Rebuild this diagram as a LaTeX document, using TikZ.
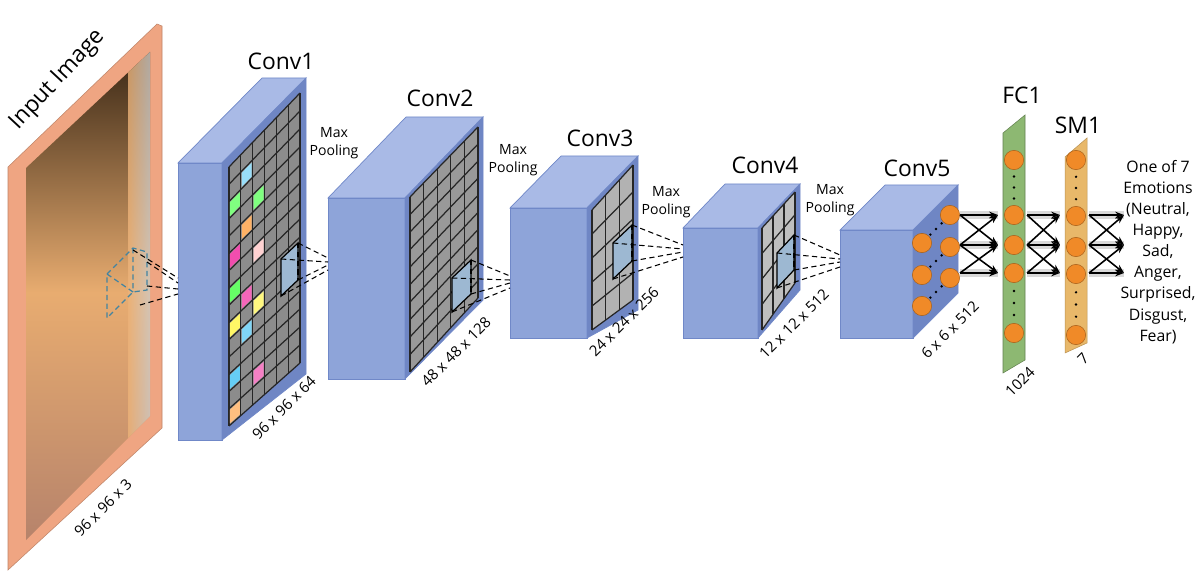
\documentclass[tikz,border=0pt]{standalone}
\usepackage{fontspec}
\setmainfont{Open Sans}
\usetikzlibrary{calc,arrows.meta}
\definecolor{bfront}{HTML}{8EA4D9}
\definecolor{btop}{HTML}{A9BAE6}
\definecolor{bside}{HTML}{6F86C4}
\definecolor{bedge}{HTML}{7088C8}
\definecolor{slab}{HTML}{EFA582}
\definecolor{fcg}{HTML}{8DB872}
\definecolor{smy}{HTML}{E8B86A}
\definecolor{neu}{HTML}{F08A28}
\definecolor{patch}{HTML}{9DB8D2}
\tikzset{
  lbl/.style={font=\fontsize{13}{15}\selectfont},
  mp/.style={font=\fontsize{8}{10}\selectfont,align=center},
  dim/.style={font=\fontsize{8.5}{10}\selectfont,rotate=45},
  proj/.style={densely dashed,line width=0.6pt},
  neuron/.style={circle,fill=neu,draw=neu!70!black,line width=0.3pt,inner sep=0pt,minimum size=11pt},
  arr/.style={-{Stealth[length=5pt]},line width=0.9pt},
  glow/.style={line width=5pt,black!15},
  cell/.style={draw=black!85,line width=0.7pt},
}
\newcommand\cnnbox[7]{%
  \fill[bfront,draw=bedge] (#1,#2) rectangle ({#1+#3},{#2+#4});
  \fill[btop,draw=bedge] (#1,#2)--({#1+#3},#2)--(#5,#6)--({#5-#3},#6)--cycle;
  \fill[bside,draw=bedge] ({#1+#3},#2)--(#5,#6)--(#5,#7)--({#1+#3},{#2+#4})--cycle;}
\newcommand\facegrid[7]{%
  \fill[#7] #1--#2--#3--#4--cycle;
  \foreach \k in {0,...,#5}{\draw[cell] ($#1!{\k/#5}!#2$)--($#4!{\k/#5}!#3$);}
  \foreach \k in {0,...,#6}{\draw[cell] ($#1!{\k/#6}!#4$)--($#2!{\k/#6}!#3$);}}
% patch: name, x1 y1 (front-left top), x2 y2 (right top), height, target coordinate
\newcommand\projpatch[7]{%
  \coordinate (#1a) at (#2,#3); \coordinate (#1b) at (#4,#5);
  \coordinate (#1c) at (#4,{#5+#6}); \coordinate (#1d) at (#2,{#3+#6});
  \fill[patch,draw=black,line width=0.7pt] (#1a)--(#1b)--(#1c)--(#1d)--cycle;
  \draw[densely dashed,line width=0.9pt] (#1b)--(#1c);
  \draw[proj] (#1b)--($(#7)+(0,-7)$) (#1c)--($(#7)+(0,0)$) (#1d)--($(#7)+(0,5)$) (#1a)--($(#7)+(0,-3)$);}
\begin{document}
\begin{tikzpicture}[x=0.02cm,y=-0.02cm]
\useasboundingbox (0,0) rectangle (1200,577);
\fill[white] (0,0) rectangle (1200,577);
% input slab
\fill[slab,draw=slab!80!black,line width=0.3pt] (8,167)--(157,24)--(162,26)--(162,428)--(8,570)--cycle;
\begin{scope}
\clip (26,168)--(150,52)--(150,416)--(26,540)--cycle;
\shade[top color=black!75!brown,bottom color=brown!45!pink!80!black,middle color=brown!55!orange!65!white] (20,40) rectangle (155,545);
\shade[left color=brown!50!orange!60!white,right color=black!20,opacity=0.8] (128,40) rectangle (152,545);
\end{scope}
\node[lbl,rotate=47] (tin) at (58,80) {Input Image};
\node[dim] (d0) at (103,508) {96 x 96 x 3};
% input patch
\draw[cyan!60!black,densely dashed,line width=0.7pt] (107,274)--(133,248)--(147,252)--(147,290)--(133,292)--(107,318)--cycle (107,274)--(133,292) (133,248)--(133,292);
\coordinate (p0a) at (133,250); \coordinate (p0b) at (147,286); \coordinate (p0c) at (140,305); \coordinate (p0d) at (147,262);
% Conv1
\cnnbox{178}{163}{44}{277}{306}{78}{374}
\facegrid{(229,167)}{(300,93)}{(300,363)}{(229,426)}{6}{15}{black!45}
\foreach \u/\v/\c in {0/5/magenta!70,0/7/green!60,0/9/yellow!60,0/12/cyan!60,1/4/orange!60,1/8/magenta!60,1/10/cyan!50,2/3/green!50,2/6/pink!70,2/9/yellow!50,2/13/magenta!50,0/2/green!50,1/1/cyan!40,0/14/orange!50}{
  \fill[\c] ($($(229,167)!{(\u+0.08)/6}!(300,93)$)!{(\v+0.1)/15}!($(229,426)!{(\u+0.08)/6}!(300,363)$)$)
   --($($(229,167)!{(\u+0.92)/6}!(300,93)$)!{(\v+0.1)/15}!($(229,426)!{(\u+0.92)/6}!(300,363)$)$)
   --($($(229,167)!{(\u+0.92)/6}!(300,93)$)!{(\v+0.9)/15}!($(229,426)!{(\u+0.92)/6}!(300,363)$)$)
   --($($(229,167)!{(\u+0.08)/6}!(300,93)$)!{(\v+0.9)/15}!($(229,426)!{(\u+0.08)/6}!(300,363)$)$)--cycle;}
\node[lbl] (c1) at (281,61) {Conv1};
\node[dim] (d1) at (284,408) {96 x 96 x 64};
\coordinate (c1in) at (178,286);
\foreach \p/\o in {p0a/-8,p0d/-3,p0b/3,p0c/8}{\draw[proj] (\p)--($(c1in)+(0,\o)$);}
\node[mp] (mp1) at (334,143) {Max\\Pooling};
% Conv2
\cnnbox{328}{198}{77}{181}{483}{117}{300}
\facegrid{(410,197)}{(478,127)}{(478,298)}{(410,372)}{5}{10}{black!40}
\node[lbl] (c2) at (440,98) {Conv2};
\node[dim] (d2) at (456,352) {48 x 48 x 128};
\coordinate (c2in) at (328,265);
\projpatch{q1}{281}{259}{298}{243}{37}{c2in}
\node[mp] (mp2) at (513,160) {Max\\Pooling};
% Conv3
\cnnbox{510}{208}{77}{130}{638}{156}{310}
\facegrid{(592,210)}{(633,165)}{(633,300)}{(592,330)}{3}{5}{black!30}
\node[lbl] (c3) at (600,138) {Conv3};
\node[dim] (d3) at (624,322) {24 x 24 x 256};
\coordinate (c3in) at (510,283);
\projpatch{q2}{452}{278}{471}{260}{34}{c3in}
\node[mp] (mp3) at (666,202) {Max\\Pooling};
% Conv4
\cnnbox{683}{228}{75}{110}{800}{184}{290}
\facegrid{(762,228)}{(795,192)}{(795,283)}{(762,330)}{3}{4}{black!25}
\node[lbl] (c4) at (765,165) {Conv4};
\node[dim] (d4) at (794,324) {12 x 12 x 512};
\coordinate (c4in) at (683,252);
\projpatch{q3}{613}{243}{632}{225}{36}{c4in}
\node[mp] (mp4) at (830,200) {Max\\Pooling};
% Conv5
\cnnbox{840}{230}{73}{108}{958}{185}{293}
\node[lbl] (c5) at (917,168) {Conv5};
\node[dim] (d5) at (950,330) {6 x 6 x 512};
\coordinate (c5in) at (840,262);
\projpatch{q4}{777}{253}{794}{235}{35}{c5in}
\node[neuron] (a1) at (950,215) {}; \node[neuron] (a2) at (950,247) {}; \node[neuron] (a3) at (950,278) {};
\node[neuron] (b1) at (922,243) {}; \node[neuron] (b2) at (922,275) {}; \node[neuron] (b3) at (922,306) {};
\foreach \s/\t in {b1/a1,b2/a2,b3/a3}{\foreach \q in {0.3,0.5,0.7}{\fill ($(\s)!\q!(\t)$) circle (1.3);}}
% FC1
\fill[fcg,draw=fcg!70!black,line width=0.3pt] (1003,133)--(1025,115)--(1025,360)--(1003,373)--cycle;
\node[lbl] (fc) at (1022,95) {FC1};
\node[dim] (dfc) at (1020,382) {1024};
\foreach \n/\y in {f1/160,f2/215,f3/245,f4/273,f5/333}{\node[neuron] (\n) at (1014,\y) {};}
% SM1
\fill[smy,draw=smy!80!black,line width=0.3pt] (1065,157)--(1087,138)--(1087,343)--(1065,353)--cycle;
\node[lbl] (sm) at (1078,125) {SM1};
\node[dim] (dsm) at (1083,359) {7};
\foreach \n/\y in {s1/160,s2/216,s3/247,s4/274,s5/335}{\node[neuron] (\n) at (1076,\y) {};}
\foreach \a/\b in {f1/f2,f4/f5,s1/s2,s4/s5}{\foreach \q in {0.3,0.5,0.7}{\fill ($(\a)!\q!(\b)$) circle (1.3);}}
% output text
\node[font=\fontsize{9}{12}\selectfont,align=center] (out) at (1158,252) {One of 7\\Emotions\\(Neutral,\\Happy,\\Sad,\\Anger,\\Surprised,\\Disgust,\\Fear)};
% arrow bundles
\foreach \xa/\xb in {960/998,1027/1060,1089/1124}{
  \foreach \ya/\yb in {215/215,245/245,273/273}{\draw[glow] (\xa,\ya)--(\xb,\yb);}
  \foreach \ya/\yb in {215/215,245/245,273/273,215/245,245/215,245/273,273/245}{
    \draw[arr] (\xa,\ya)--(\xb,\yb);}}
\end{tikzpicture}
\end{document}
